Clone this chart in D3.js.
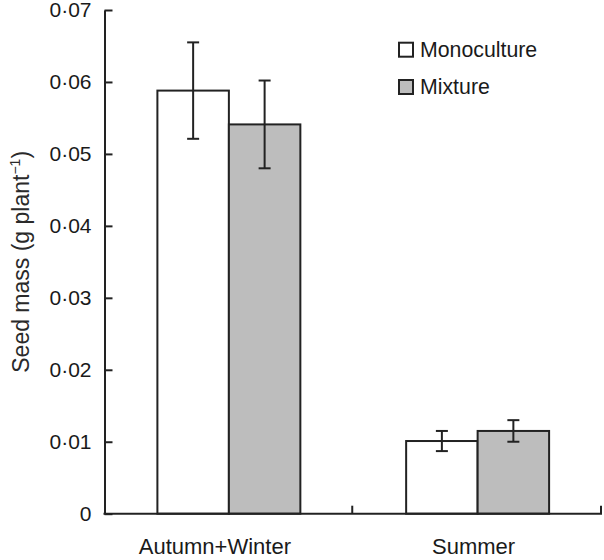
<!doctype html>
<meta charset="utf-8">
<title>Seed mass</title>
<script src="https://cdn.jsdelivr.net/npm/d3@7/dist/d3.min.js"></script>
<style>
  body { margin: 0; background: #fff; }
  svg { font-family: "Liberation Sans", Arial, sans-serif; }
</style>
<svg id="chart" width="604" height="560"></svg>
<script>
  // data
  const categories = ['Autumn+Winter', 'Summer']
  const series = ['Monoculture', 'Mixture']
  const monoculture = [0.0588, 0.0101]
  const monocultureSE = [0.0067, 0.0014]
  const mixture = [0.0541, 0.0115]
  const mixtureSE = [0.0061, 0.0015]
  const yTicks = [0, 0.01, 0.02, 0.03, 0.04, 0.05, 0.06, 0.07]

  const colors = { Monoculture: '#ffffff', Mixture: '#bdbdbd' }
  const ink = '#222'
  // category labels in the original sit a bit left of the group centre
  const labelNudge = [-14, -4]

  const margin = { top: 10, left: 104.5, right: 2, bottom: 46.3 }
  const width = 604
  const height = 560

  const svg = d3.select('#chart')

  const x0 = d3.scaleBand()
    .domain(categories)
    .range([margin.left, width - margin.right])
  const x1 = d3.scaleBand()
    .domain(series)
    .range([0, x0.bandwidth()])
    .paddingOuter(0.74)
  const y = d3.scaleLinear()
    .domain([0, 0.07])
    .range([height - margin.bottom, margin.top])

  const rows = categories.map((c, i) => ({
    cat: c,
    vals: [
      { s: 'Monoculture', v: monoculture[i], se: monocultureSE[i] },
      { s: 'Mixture', v: mixture[i], se: mixtureSE[i] },
    ],
  }))

  // bars
  const groups = svg.append('g').selectAll('g')
    .data(rows)
    .join('g')
    .attr('transform', d => `translate(${x0(d.cat)},0)`)

  groups.selectAll('rect')
    .data(d => d.vals)
    .join('rect')
    .attr('x', d => x1(d.s))
    .attr('y', d => y(d.v))
    .attr('width', x1.bandwidth())
    .attr('height', d => y(0) - y(d.v))
    .attr('fill', d => colors[d.s])
    .attr('stroke', ink)
    .attr('stroke-width', 2)

  // error bars
  const err = groups.selectAll('g.err')
    .data(d => d.vals)
    .join('g')
    .attr('class', 'err')
    .attr('stroke', ink)
    .attr('stroke-width', 2)
  const cx = d => x1(d.s) + x1.bandwidth() / 2
  err.append('line')
    .attr('x1', cx).attr('x2', cx)
    .attr('y1', d => y(d.v + d.se)).attr('y2', d => y(d.v - d.se))
  err.append('line')
    .attr('x1', d => cx(d) - 6).attr('x2', d => cx(d) + 6)
    .attr('y1', d => y(d.v + d.se)).attr('y2', d => y(d.v + d.se))
  err.append('line')
    .attr('x1', d => cx(d) - 6).attr('x2', d => cx(d) + 6)
    .attr('y1', d => y(d.v - d.se)).attr('y2', d => y(d.v - d.se))

  // y axis, ticks point inward
  const fmt = d => d === 0 ? '0' : d3.format('.2f')(d).replace('.', '\u00b7')
  const yAxis = svg.append('g')
    .attr('transform', `translate(${margin.left},0)`)
    .call(d3.axisLeft(y).tickValues(yTicks).tickFormat(fmt)
      .tickSizeInner(-8).tickSizeOuter(0).tickPadding(13))
  yAxis.select('.domain').attr('stroke', ink).attr('stroke-width', 2)
  yAxis.selectAll('.tick line').attr('stroke', ink).attr('stroke-width', 2)
  yAxis.selectAll('.tick text')
    .attr('font-size', 21)
    .attr('fill', '#1a1a1a')
    .attr('font-family', '"Liberation Sans", Arial, sans-serif')

  // x axis line + separators between categories
  const xAxis = svg.append('g')
  xAxis.append('line')
    .attr('x1', margin.left - 1).attr('x2', width - margin.right)
    .attr('y1', y(0)).attr('y2', y(0))
    .attr('stroke', ink).attr('stroke-width', 2)
  const seps = categories.slice(1).map(c => x0(c)).concat([x0.range()[1]])
  xAxis.selectAll('line.sep')
    .data(seps)
    .join('line')
    .attr('class', 'sep')
    .attr('x1', d => d - 1).attr('x2', d => d - 1)
    .attr('y1', y(0)).attr('y2', y(0) - 8)
    .attr('stroke', ink).attr('stroke-width', 2)
  xAxis.selectAll('text')
    .data(categories)
    .join('text')
    .attr('x', (d, i) => x0(d) + x0.bandwidth() / 2 + labelNudge[i])
    .attr('y', y(0) + 40.5)
    .attr('text-anchor', 'middle')
    .attr('font-size', 22)
    .attr('fill', '#1a1a1a')
    .text(d => d)

  // y axis title
  const title = svg.append('text')
    .attr('transform', `translate(28.5,${(y(0) + y(0.07)) / 2}) rotate(-90)`)
    .attr('text-anchor', 'middle')
    .attr('font-size', 23)
    .attr('fill', '#2a2a2a')
  title.append('tspan').text('Seed mass (g plant')
  title.append('tspan').text('\u22121').attr('font-size', 14).attr('dy', -9)
  title.append('tspan').text(')').attr('dy', 9)

  // legend
  const legend = svg.append('g').selectAll('g')
    .data(series)
    .join('g')
    .attr('transform', (d, i) => `translate(399,${42.7 + i * 37.3})`)
  legend.append('rect')
    .attr('width', 14).attr('height', 14)
    .attr('fill', d => colors[d])
    .attr('stroke', ink).attr('stroke-width', 2)
  legend.append('text')
    .attr('x', 21).attr('y', 14.3)
    .attr('font-size', 21.3)
    .attr('fill', '#1a1a1a')
    .text(d => d)
</script>
